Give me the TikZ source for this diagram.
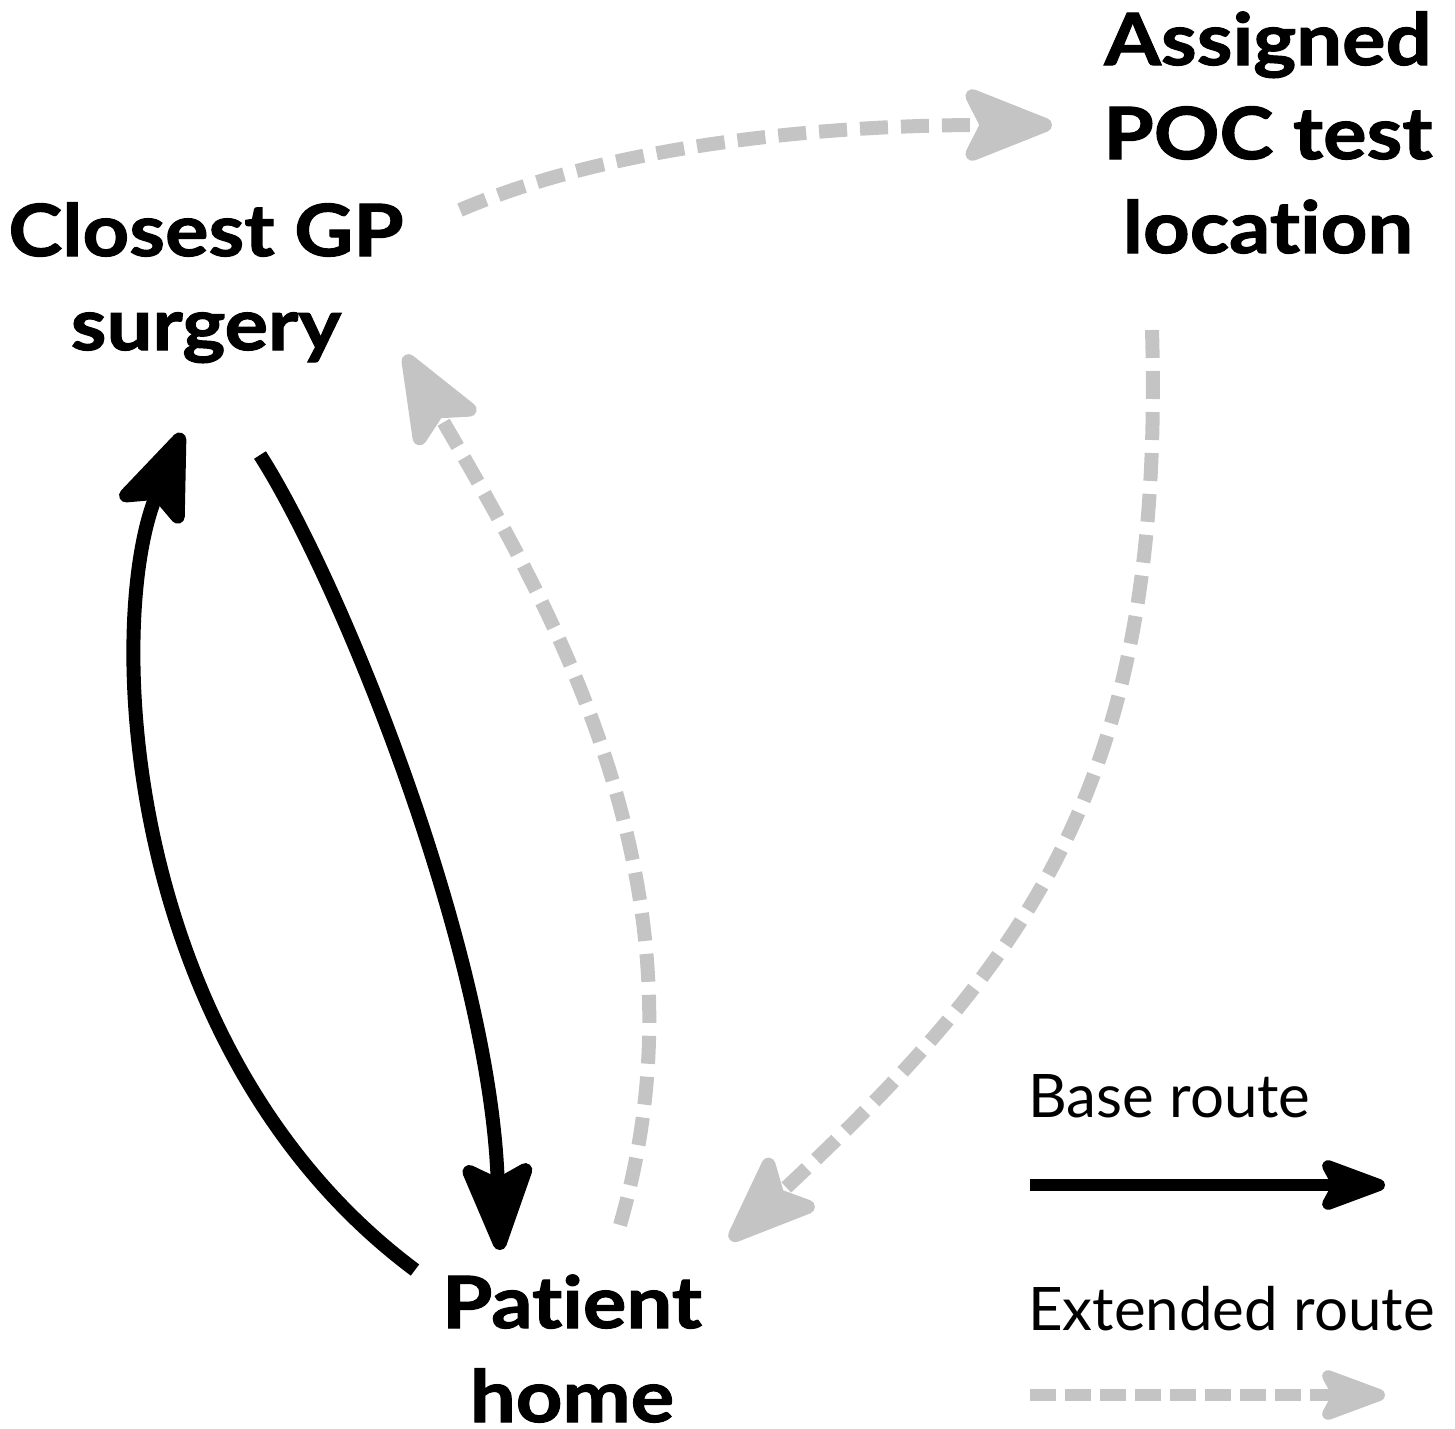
\documentclass[tikz,border=0pt]{standalone}
\usepackage{fontspec}
\setmainfont{Lato}
\newfontfamily\lblfont{Lato}[FakeStretch=1.13,FakeBold=1.5,Ligatures=NoCommon]
\usetikzlibrary{arrows.meta}
\definecolor{routegray}{RGB}{196,196,196}
\tikzset{
  lbl/.style={font=\lblfont\bfseries\fontsize{72}{94}\selectfont, align=center, inner sep=0pt, anchor=base},
  leg/.style={font=\fontsize{60}{70}\selectfont, inner sep=0pt, anchor=base west},
  base/.style={draw=black, line width=14pt, -{Stealth[length=105pt,width=80pt,inset=20pt,round]}},
  ext/.style={draw=routegray, line width=14pt, dash pattern=on 28pt off 13pt, -{Stealth[length=105pt,width=82pt,inset=20pt,round]}},
  legbase/.style={draw=black, line width=12pt, -{Stealth[length=80pt,width=58pt,inset=15pt,round]}},
  legext/.style={draw=routegray, line width=12pt, dash pattern=on 26pt off 9pt, -{Stealth[length=80pt,width=58pt,inset=15pt,round]}}
}
\begin{document}
\begin{tikzpicture}[x=1pt,y=-1pt]
\useasboundingbox (0,0) rectangle (1455,1428);
\node[lbl] (gp) at (206,350) {Closest GP\\surgery};
\node[lbl] (poc) at (1268,253) {Assigned\\POC test\\location};
\node[lbl] (home) at (572,1422) {Patient\\home};
\node[leg] (lb) at (1028,1117) {Base route};
\node[leg] (le) at (1028,1330) {Extended route};
% endpoints
\coordinate (a1s) at (415,1270); \coordinate (a1e) at (182,433);
\coordinate (a2s) at (260,455);  \coordinate (a2e) at (500,1250);
\coordinate (a3s) at (620,1225); \coordinate (a3e) at (405,355);
\coordinate (a4s) at (460,210);  \coordinate (a4e) at (1052,125);
\coordinate (a5s) at (1152,330); \coordinate (a5e) at (730,1240);
\coordinate (l1s) at (1030,1185); \coordinate (l1e) at (1385,1185);
\coordinate (l2s) at (1030,1395); \coordinate (l2e) at (1385,1395);
\draw[base] (a1s) .. controls (120,1050) and (105,620) .. (a1e);
\draw[base] (a2s) .. controls (340,580) and (490,950) .. (a2e);
\draw[ext] (a3s) .. controls (720,880) and (540,590) .. (a3e);
\draw[ext] (a4s) .. controls (600,150) and (800,125) .. (a4e);
\draw[ext] (a5s) .. controls (1165,780) and (1030,960) .. (a5e);
\draw[legbase] (l1s) -- (l1e);
\draw[legext] (l2s) -- (l2e);
\end{tikzpicture}
\end{document}
